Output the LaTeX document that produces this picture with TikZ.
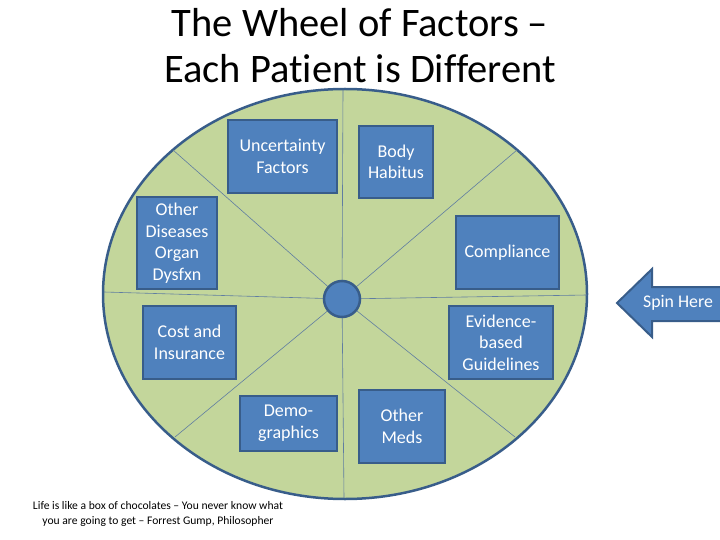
\documentclass[tikz,border=0pt]{standalone}
\usepackage{fontspec}
\setmainfont{Carlito}[Ligatures={TeX,NoCommon}]
\definecolor{boxfill}{HTML}{4F81BD}
\definecolor{boxline}{HTML}{385D8A}
\definecolor{wheel}{HTML}{C3D69B}
\begin{document}
\begin{tikzpicture}[x=1pt,y=-1pt,
  factor/.style={draw=boxline,line width=2.5pt,fill=boxfill,text=white,
    font=\fontsize{18}{21.5}\selectfont,align=center,inner sep=0pt,rectangle},
  spoke/.style={draw=boxline!80,line width=0.6pt}]
\useasboundingbox (0,0) rectangle (720,540);
\node[font=\fontsize{40.5}{46}\selectfont,align=center] (title) at (360,46) {The Wheel of Factors --\\Each Patient is Different};
\draw[fill=wheel,draw=boxline,line width=2.5pt] (345,294) ellipse [x radius=242,y radius=205];
\coordinate (hubc) at (342,299);
\coordinate (e1) at (343,90);
\coordinate (e2) at (517,150);
\coordinate (e3) at (587,295);
\coordinate (e4) at (515,437);
\coordinate (e5) at (344,498);
\coordinate (e6) at (175,437);
\coordinate (e7) at (104,292);
\coordinate (e8) at (173,150);
\foreach \e in {e1,e2,e3,e4,e5,e6,e7,e8} \draw[spoke] (hubc) -- (\e);
\node[circle,fill=boxfill,draw=boxline,line width=2.5pt,minimum size=36pt,inner sep=0pt] (hub) at (hubc) {};
\node[factor,minimum width=109pt,minimum height=73pt] (unc) at (282.5,156.5) {Uncertainty\\Factors};
\node[factor,minimum width=74pt,minimum height=72pt] (body) at (396,162) {Body\\Habitus};
\node[factor,minimum width=80pt,minimum height=92pt] (other) at (177,243) {Other\\Diseases\\Organ\\Dysfxn};
\node[factor,minimum width=103pt,minimum height=73pt] (comp) at (507.5,252.5) {Compliance};
\node[factor,minimum width=93pt,minimum height=73pt] (cost) at (189.5,342.5) {Cost and\\Insurance};
\node[factor,minimum width=104pt,minimum height=73pt] (evid) at (501,342.5) {Evidence-\\based\\Guidelines};
\node[factor,minimum width=97pt,minimum height=55pt] (demo) at (288.5,423.5) {Demo-\\graphics};
\node[factor,minimum width=86pt,minimum height=73pt] (meds) at (402,426.5) {Other\\Meds};
\draw[fill=boxfill,draw=boxline,line width=2pt] (617,303) -- (652,269) -- (652,287) -- (722,287) -- (722,321) -- (652,321) -- (652,337) -- cycle;
\node[text=white,font=\fontsize{17.8}{20}\selectfont] (spin) at (678,303) {Spin Here};
\node[font=\fontsize{11.6}{15}\selectfont,align=center] (quote) at (158,514) {Life is like a box of chocolates -- You never know what\\you are going to get -- Forrest Gump, Philosopher};
\end{tikzpicture}
\end{document}
